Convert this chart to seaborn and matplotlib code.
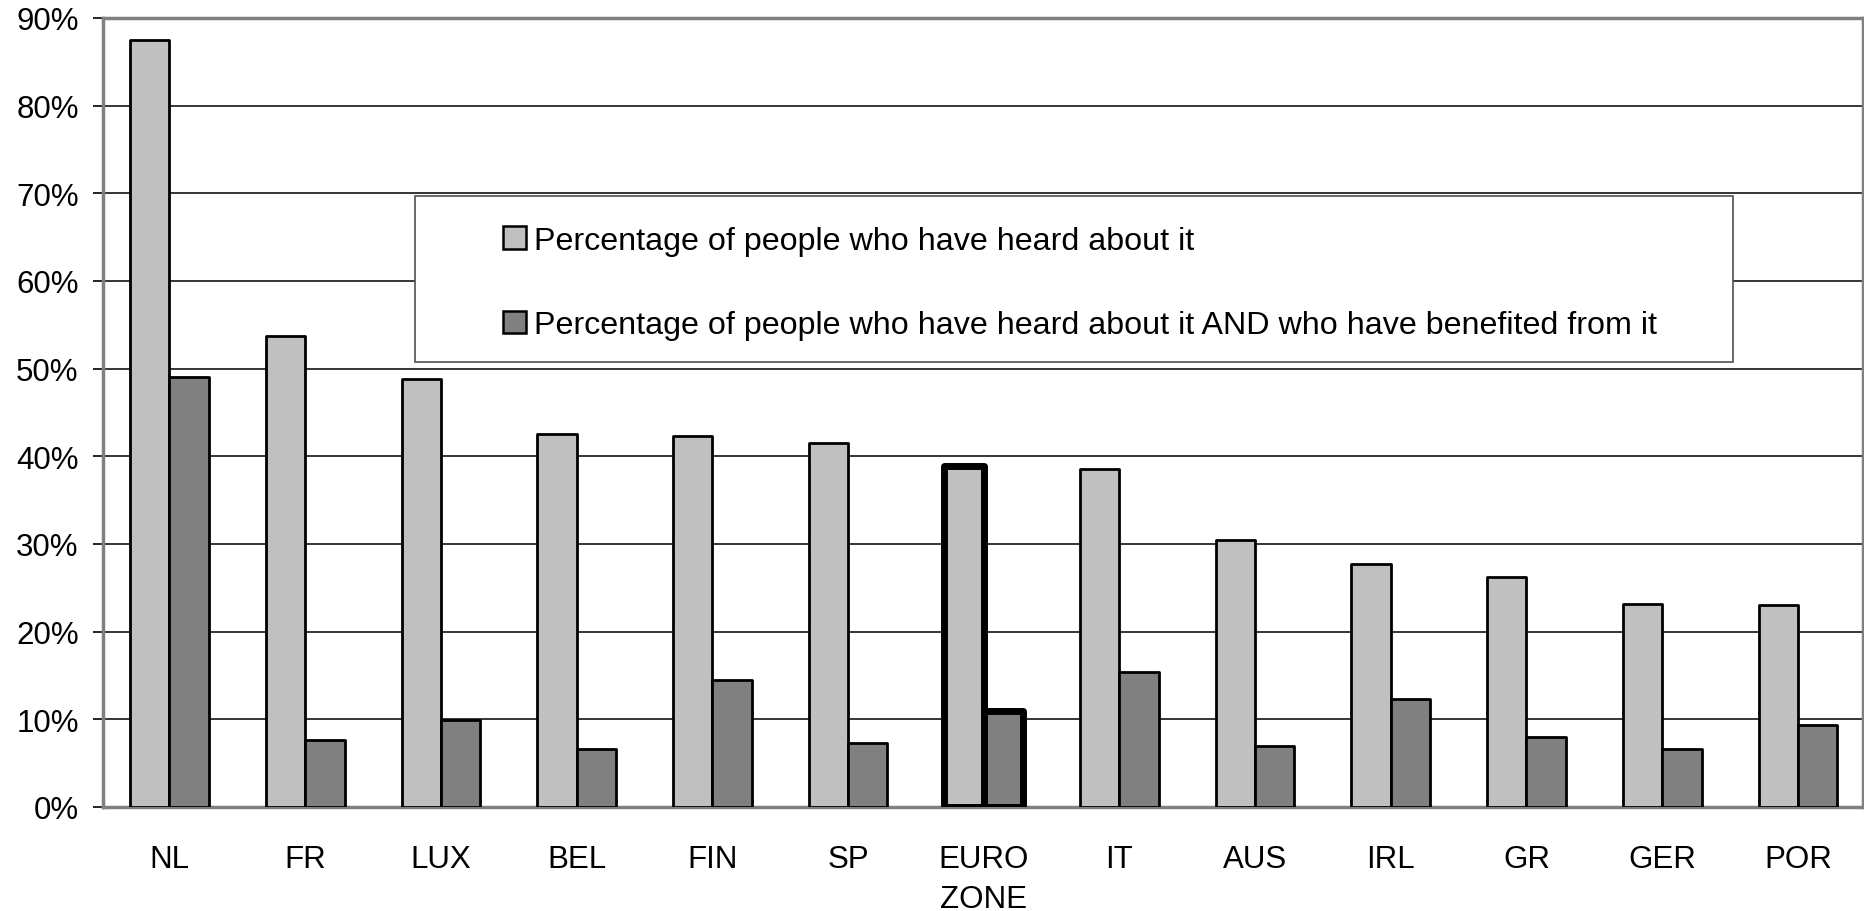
import matplotlib
matplotlib.use("Agg")
import matplotlib.pyplot as plt
import matplotlib.patches as mpatches
import seaborn as sns
import pandas as pd

categories = ["NL", "FR", "LUX", "BEL", "FIN", "SP", "EURO\nZONE", "IT", "AUS", "IRL", "GR", "GER", "POR"]
heard = [87.5, 53.7, 48.8, 42.6, 42.3, 41.5, 38.9, 38.6, 30.4, 27.7, 26.2, 23.1, 23.0]
benefited = [49.0, 7.6, 9.9, 6.6, 14.5, 7.3, 10.9, 15.4, 7.0, 12.3, 8.0, 6.6, 9.3]
series_names = ["Percentage of people who have heard about it",
                "Percentage of people who have heard about it AND who have benefited from it"]
series_colors = ["#C0C0C0", "#808080"]
yticks = [0, 10, 20, 30, 40, 50, 60, 70, 80, 90]
highlight = "EURO\nZONE"

sns.set_style("white")
plt.rcParams["font.family"] = ["Liberation Sans", "DejaVu Sans"]
plt.rcParams["text.color"] = "black"
plt.rcParams["xtick.color"] = "black"
plt.rcParams["ytick.color"] = "black"
plt.rcParams["xtick.labelcolor"] = "black"
plt.rcParams["ytick.labelcolor"] = "black"

df = pd.DataFrame({
    "country": categories * 2,
    "value": heard + benefited,
    "series": [series_names[0]] * len(categories) + [series_names[1]] * len(categories),
})

fig = plt.figure(figsize=(18.65, 9.12), dpi=100)
ax = fig.add_axes([103 / 1865, 1 - 808 / 912, 1760 / 1865, (808 - 19) / 912])

sns.barplot(data=df, x="country", y="value", hue="series", order=categories,
            hue_order=series_names, palette=series_colors, width=0.58,
            edgecolor="black", linewidth=2, saturation=1, ax=ax, legend=False, zorder=3)

hi = categories.index(highlight)
for cont in ax.containers:
    for i, bar in enumerate(cont):
        bar.set_edgecolor("black")
        bar.set_linewidth(5 if i == hi else 2)
        bar.set_joinstyle("round")

ax.set_ylim(0, 90)
ax.set_xlim(-0.49, len(categories) - 0.52)
ax.set_yticks(yticks)
ax.set_yticklabels([f"{t}%" for t in yticks], fontsize=22.5, color="black")
ax.tick_params(axis="y", direction="out", length=7.5, width=1.2, color="black", pad=10, left=True)
ax.tick_params(axis="x", length=0, pad=26.5, labelsize=22.5, labelcolor="black")
for lbl in ax.get_xticklabels():
    lbl.set_linespacing(1.45)
ax.set_xlabel("")
ax.set_ylabel("")
ax.yaxis.grid(True, color="black", linewidth=1.1, zorder=0)
ax.set_axisbelow(True)
for s in ax.spines.values():
    s.set_visible(True)
    s.set_color("#808080")
    s.set_linewidth(2.5)

# legend box
fig.patches.append(mpatches.Rectangle((415 / 1865, 1 - 363 / 912), (1733 - 415) / 1865, (363 - 197) / 912,
                                      transform=fig.transFigure, facecolor="white",
                                      edgecolor="#505050", linewidth=1.2, zorder=5))
handles = [mpatches.Patch(facecolor=c, edgecolor="black", linewidth=1.8) for c in series_colors]
leg = fig.legend(handles, series_names, loc="upper left",
                 bbox_to_anchor=(503 / 1865, 1 - 227 / 912), frameon=False, fontsize=23.2,
                 handlelength=0.7, handleheight=0.7, handletextpad=0.25, labelspacing=1.68,
                 borderpad=0, borderaxespad=0)
for t in leg.get_texts():
    t.set_color("black")
leg.set_zorder(6)

fig.savefig("out.png", dpi=100)
